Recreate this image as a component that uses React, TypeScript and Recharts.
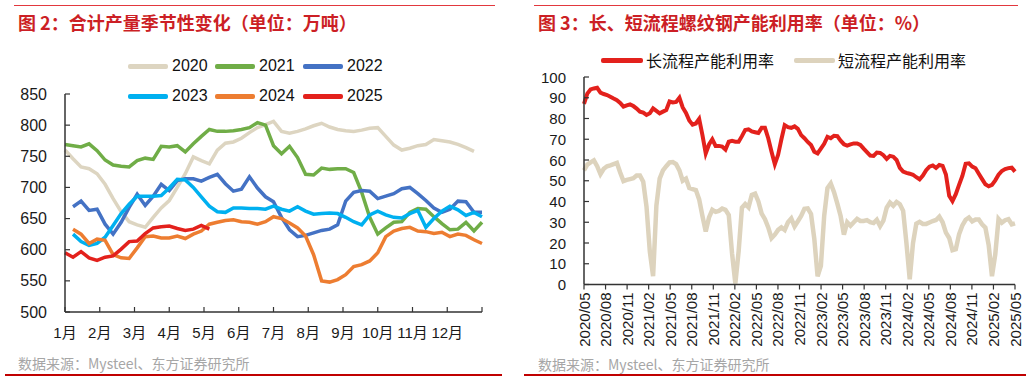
import React from "react";
import { LineChart, Line, XAxis, YAxis } from "recharts";

// ---- 图2 合计产量季节性变化 (weekly, 万吨)
const monthLabels = ["1月", "2月", "3月", "4月", "5月", "6月", "7月", "8月", "9月", "10月", "11月", "12月", ""];
const monthTicks = [0, 1, 2, 3, 4, 5, 6, 7, 8, 9, 10, 11, 12];
const outputTicks = [500, 550, 600, 650, 700, 750, 800, 850];

const yearNames = ["2020", "2021", "2022", "2023", "2024", "2025"];
const yearColors = ["#DDD5C1", "#70AD47", "#4472C4", "#00B0F0", "#ED7D31", "#E3211C"];
// first week index of each series
const yearStartWeek = [0, 0, 1, 1, 1, 0];

const output2020 = [760, 746, 733, 730, 722, 705, 682, 661, 645, 640, 636, 652, 667, 679, 700, 722, 749, 743, 738, 760, 771, 773, 779, 788, 796, 801, 806, 790, 787, 790, 794, 799, 803, 797, 793, 791, 790, 792, 795, 796, 782, 768, 760, 763, 767, 769, 777, 775, 773, 769, 764, 758];
const output2021 = [769, 767, 765, 770, 759, 744, 736, 734, 733, 743, 747, 745, 766, 765, 767, 757, 770, 782, 793, 790, 790, 791, 793, 796, 804, 800, 767, 754, 766, 748, 721, 720, 731, 729, 730, 730, 724, 692, 652, 625, 635, 644, 645, 660, 666, 665, 653, 642, 632, 633, 644, 630, 644];
const output2022 = [669, 678, 663, 665, 641, 625, 644, 668, 689, 671, 686, 705, 695, 711, 714, 714, 710, 716, 721, 706, 694, 697, 717, 699, 685, 677, 652, 632, 621, 623, 627, 631, 633, 640, 678, 692, 695, 694, 682, 686, 690, 698, 700, 690, 679, 667, 660, 665, 678, 677, 660, 660];
const output2023 = [625, 613, 607, 610, 620, 639, 658, 673, 686, 686, 686, 687, 699, 713, 712, 700, 685, 670, 661, 660, 667, 667, 666, 666, 665, 670, 665, 662, 669, 662, 657, 658, 659, 658, 652, 645, 640, 656, 662, 656, 652, 651, 658, 663, 636, 650, 662, 670, 664, 655, 660, 653];
const output2024 = [633, 625, 610, 617, 615, 592, 587, 586, 603, 621, 622, 619, 619, 622, 618, 625, 630, 641, 644, 647, 648, 645, 644, 641, 645, 653, 650, 643, 635, 622, 592, 550, 548, 552, 560, 573, 576, 582, 595, 621, 630, 634, 636, 630, 629, 626, 628, 621, 625, 623, 616, 610];
const output2025 = [595, 588, 597, 587, 583, 588, 590, 601, 613, 614, 626, 635, 637, 638, 634, 631, 633, 639, 633];
const yearSeries = [output2020, output2021, output2022, output2023, output2024, output2025];

// ---- 图3 长、短流程螺纹钢产能利用率 (%), biweekly from 2020/05
const rateTickLabels = ["2020/05", "2020/08", "2020/11", "2021/02", "2021/05", "2021/08", "2021/11", "2022/02", "2022/05", "2022/08", "2022/11", "2023/02", "2023/05", "2023/08", "2023/11", "2024/02", "2024/05", "2024/08", "2024/11", "2025/02", "2025/05"];
const rateTicks = [0, 3, 6, 9, 12, 15, 18, 21, 24, 27, 30, 33, 36, 39, 42, 45, 48, 51, 54, 57, 60];
const pctTicks = [0, 10, 20, 30, 40, 50, 60, 70, 80, 90, 100];

const longProcess = [
  87, 92, 94, 94.5, 94.8, 92.5, 91.8, 91.3, 90.5, 89.6,
  88.8, 87.5, 85.7, 86.3, 86.8, 86, 84.8, 83.3, 82.8, 81.7,
  82.5, 84.9, 83.7, 82.5, 83.3, 84.1, 88.2, 87.7, 88, 90,
  85.3, 82.7, 79, 77, 77.6, 79.8, 72, 63.2, 67.5, 70,
  66.8, 66.8, 66.5, 65, 68.8, 69.2, 68.8, 68.8, 71.5, 74.5,
  74.8, 73.8, 73.4, 73, 75.5, 75.5, 70.5, 64, 58, 62.5,
  70, 76.8, 75.8, 75.5, 76.2, 75, 72, 70.5, 68.7, 67.2,
  64, 63.2, 65.5, 67.8, 71.2, 70.5, 71.7, 71.5, 69.3, 67.6,
  66.9, 67.5, 68, 68, 67.3, 65.5, 63.8, 62.1, 62, 63.6,
  63.4, 62.3, 60.5, 62, 61.6, 60, 56.2, 54.4, 53.8, 53.4,
  52.9, 51.7, 50.7, 52.5, 55.1, 56.8, 57.4, 56.2, 57.6, 57.2,
  53, 42.8, 40.2, 43.5, 48, 52.3, 58.2, 58.4, 56.8, 56,
  53.4, 50.8, 48.3, 47.3, 48, 50.2, 52.9, 54.7, 55.6, 56.1,
  56.3, 54.4,
];
const shortProcess = [
  55, 57.8, 58.9, 59.8, 57, 53.2, 55.8, 57, 57.4, 58,
  58.6, 54, 49.8, 50.4, 50.8, 51.2, 52.5, 52.5, 49.5, 37.5,
  16, 4, 38, 51, 55, 57, 58.8, 59, 58, 55,
  50, 51, 46.5, 46, 45.5, 41, 33, 25.5, 32.3, 36,
  35, 35.5, 36.6, 36, 33.5, 15, 0.5, 16, 37, 38.8,
  37.2, 43.2, 43.8, 40, 34.2, 31.5, 27.5, 22.3, 24, 26.3,
  27.5, 26.3, 30, 31.8, 28, 30.5, 33, 36.5, 36.7, 34,
  22, 4, 9, 33, 46.5, 48.7, 44.5, 39, 33, 24,
  30, 28.3, 30, 31.6, 30.6, 30.6, 31, 30, 29.6, 31.2,
  28.1, 30.8, 37, 39.5, 38, 39.8, 38.7, 35.5, 20, 2.5,
  20, 29.3, 30.2, 29.2, 29.2, 29.9, 30.6, 31.1, 32.7, 30,
  25, 22.4, 16.5, 17, 24.2, 28.5, 31.2, 32.3, 30.4, 31.3,
  31.3, 29, 27.4, 19, 4, 14.5, 31.6, 29.8, 31, 31.5,
  29, 29.5,
];

const latin = '"Liberation Sans", Arial, "Noto Sans CJK SC", sans-serif';
const cjk = '"Noto Sans CJK SC", "Liberation Sans", sans-serif';
const titleRed = "#CC1F25";
const axisColor = "#333";

const yearData = yearSeries.map((vals, k) =>
  vals.map((v, i) => ({ x: ((yearStartWeek[k] + i) * 12) / 52, v }))
);
const rateStep = 60 / (longProcess.length - 1);
const rateData = longProcess.map((v, i) => ({ x: i * rateStep, long: v, short: shortProcess[i] }));

const SeasonXTick = (props: any) => {
  const { x, y, payload } = props;
  return (
    <g>
      <line x1={x} y1={y} x2={x} y2={y - 5} stroke={axisColor} strokeWidth={1.2} />
      <text x={x} y={y + 26} textAnchor="middle" fontSize={15} fill="#1a1a1a" fontFamily={latin}>
        {monthLabels[payload.value]}
      </text>
    </g>
  );
};

const InnerYTick = (props: any) => {
  const { x, y, payload, fontSize } = props;
  return (
    <g>
      <line x1={x} y1={y} x2={x + 5} y2={y} stroke={axisColor} strokeWidth={1.2} />
      <text x={x - 18} y={y + 5.5} textAnchor="end" fontSize={fontSize} fill="#1a1a1a" fontFamily={latin}>
        {payload.value}
      </text>
    </g>
  );
};

const RateXTick = (props: any) => {
  const { x, y, payload } = props;
  const idx = rateTicks.indexOf(payload.value);
  return (
    <g>
      <line x1={x} y1={y} x2={x} y2={y + 5} stroke={axisColor} strokeWidth={1.2} />
      <text
        x={x}
        y={y + 8}
        dy={5.5}
        transform={`rotate(-90 ${x} ${y + 8})`}
        textAnchor="end"
        fontSize={15}
        fill="#1a1a1a"
        fontFamily={latin}
      >
        {rateTickLabels[idx]}
      </text>
    </g>
  );
};

const abs = (left: number, top: number, extra: React.CSSProperties = {}): React.CSSProperties => ({
  position: "absolute",
  left,
  top,
  whiteSpace: "nowrap",
  ...extra,
});

const legendLefts = [128, 215, 303];

export default function App() {
  return (
    <div style={{ position: "absolute", left: 0, top: 0, width: 1032, height: 380, background: "#fff", overflow: "hidden" }}>
      {/* frame lines */}
      <div style={abs(14, 5, { width: 481, height: 1, background: "#E2383E" })} />
      <div style={abs(534, 5, { width: 484, height: 1, background: "#E2383E" })} />
      <div style={abs(5, 374, { width: 497, height: 1.5, background: "#C00000" })} />
      <div style={abs(524, 374, { width: 502, height: 1.5, background: "#C00000" })} />

      {/* titles */}
      <div style={abs(18, 10, { fontFamily: cjk, fontWeight: 700, fontSize: 18, color: titleRed, lineHeight: "24px" })}>
        图 2：合计产量季节性变化（单位：万吨）
      </div>
      <div style={abs(538, 10, { fontFamily: cjk, fontWeight: 700, fontSize: 18, color: titleRed, lineHeight: "24px" })}>
        图 3：长、短流程螺纹钢产能利用率（单位：%）
      </div>

      {/* sources */}
      <div style={abs(18, 353, { fontFamily: cjk, fontSize: 14, color: "#A6A6A6", lineHeight: "20px" })}>
        数据来源：Mysteel、东方证券研究所
      </div>
      <div style={abs(538, 354, { fontFamily: cjk, fontSize: 14, color: "#A6A6A6", lineHeight: "20px" })}>
        数据来源：Mysteel、东方证券研究所
      </div>

      {/* left legend */}
      {yearNames.map((name, k) => {
        const row = Math.floor(k / 3);
        const left = legendLefts[k % 3];
        const cy = row === 0 ? 66 : 96;
        return (
          <React.Fragment key={name}>
            <div style={abs(left, cy - 2, { width: 40, height: 4.5, borderRadius: 2, background: yearColors[k] })} />
            <div style={abs(left + 44, cy - 10, { fontFamily: latin, fontSize: 16, color: "#111", lineHeight: "20px" })}>
              {name}
            </div>
          </React.Fragment>
        );
      })}

      {/* right legend */}
      <div style={abs(601, 58, { width: 42, height: 4.5, borderRadius: 2, background: "#E3211C" })} />
      <div style={abs(646, 49, { fontFamily: cjk, fontSize: 16, color: "#111", lineHeight: "22px" })}>长流程产能利用率</div>
      <div style={abs(794, 58, { width: 41, height: 4.5, borderRadius: 2, background: "#DDD3BD" })} />
      <div style={abs(838, 49, { fontFamily: cjk, fontSize: 16, color: "#111", lineHeight: "22px" })}>短流程产能利用率</div>

      {/* 图2 chart */}
      <div style={abs(0, 0)}>
        <LineChart width={516} height={380} margin={{ top: 94, right: 34, bottom: 28, left: 5 }}>
          <XAxis
            type="number"
            dataKey="x"
            domain={[0, 12]}
            ticks={monthTicks}
            interval={0}
            height={40}
            tickSize={0}
            tickMargin={0}
            tickLine={false}
            axisLine={{ stroke: axisColor, strokeWidth: 1.5 }}
            tick={<SeasonXTick />}
            allowDuplicatedCategory={false}
          />
          <YAxis
            type="number"
            domain={[500, 850]}
            ticks={outputTicks}
            interval={0}
            width={60}
            tickSize={0}
            tickMargin={0}
            tickLine={false}
            axisLine={{ stroke: axisColor, strokeWidth: 1.5 }}
            tick={<InnerYTick fontSize={16} />}
          />
          {yearData.map((d, k) => (
            <Line
              key={yearNames[k]}
              data={d}
              dataKey="v"
              type="linear"
              stroke={yearColors[k]}
              strokeWidth={3.5}
              dot={false}
              isAnimationActive={false}
            />
          ))}
        </LineChart>
      </div>

      {/* 图3 chart */}
      <div style={abs(516, 0)}>
        <LineChart width={516} height={380} data={rateData} margin={{ top: 77, right: 17, bottom: 35.5, left: 8 }}>
          <XAxis
            type="number"
            dataKey="x"
            domain={[0, 60]}
            ticks={rateTicks}
            interval={0}
            height={60}
            tickSize={0}
            tickMargin={0}
            tickLine={false}
            axisLine={{ stroke: axisColor, strokeWidth: 1.5 }}
            tick={<RateXTick />}
          />
          <YAxis
            type="number"
            domain={[0, 100]}
            ticks={pctTicks}
            interval={0}
            width={60}
            tickSize={0}
            tickMargin={0}
            tickLine={false}
            axisLine={{ stroke: axisColor, strokeWidth: 1.5 }}
            tick={<InnerYTick fontSize={15} />}
          />
          <Line dataKey="short" type="linear" stroke="#DDD3BD" strokeWidth={4.5} dot={false} isAnimationActive={false} />
          <Line dataKey="long" type="linear" stroke="#E3211C" strokeWidth={4} dot={false} isAnimationActive={false} />
        </LineChart>
      </div>
    </div>
  );
}
